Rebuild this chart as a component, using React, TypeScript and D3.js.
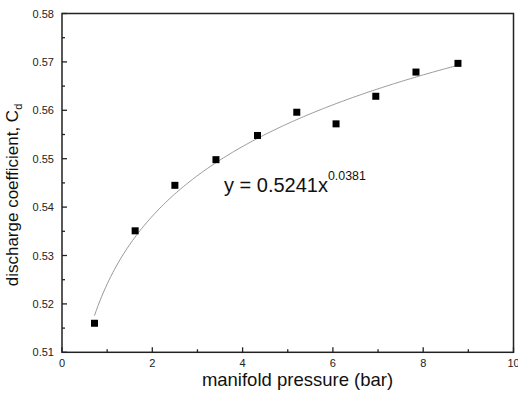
import React from "react";
import * as d3 from "d3";

const pressure = [0.72, 1.62, 2.5, 3.41, 4.33, 5.2, 6.07, 6.95, 7.84, 8.77];
const cd = [0.516, 0.5351, 0.5445, 0.5498, 0.5548, 0.5596, 0.5572, 0.5629, 0.5679, 0.5697];
const fitA = 0.5241;
const fitB = 0.0381;
const xTicks = [0, 2, 4, 6, 8, 10];
const xMinor = [1, 3, 5, 7, 9];
const yTicks = [0.51, 0.52, 0.53, 0.54, 0.55, 0.56, 0.57, 0.58];
const yMinor = [0.515, 0.525, 0.535, 0.545, 0.555, 0.565, 0.575];

export default function App() {
  const W = 518, H = 402;
  const L = 62, R = 513.5, T = 13.5, B = 352.3;
  const x = d3.scaleLinear().domain([0, 10]).range([L, R]);
  const y = d3.scaleLinear().domain([0.51, 0.58]).range([B, T]);
  const xs = d3.range(0, 201).map((i) => pressure[0] + (pressure[pressure.length - 1] - pressure[0]) * i / 200);
  const line = d3.line<number>().x((v) => x(v)).y((v) => y(fitA * Math.pow(v, fitB)));
  const font = "Arial, 'Liberation Sans', sans-serif";
  return (
    <svg width={W} height={H} style={{ position: "absolute", left: 0, top: 0, background: "#fff" }} fontFamily={font}>
      <rect x={0} y={0} width={W} height={H} fill="#fff" />
      <path d={line(xs) || ""} fill="none" stroke="#999" strokeWidth={1} />
      {pressure.map((p, i) => (
        <rect key={i} x={x(p) - 3.5} y={y(cd[i]) - 3.5} width={7} height={7} fill="#000" />
      ))}
      <rect x={L} y={T} width={R - L} height={B - T} fill="none" stroke="#222" strokeWidth={1.5} />
      {xTicks.map((t) => (
        <g key={"x" + t}>
          <line x1={x(t)} x2={x(t)} y1={B} y2={B - 5} stroke="#222" strokeWidth={1.3} />
          <text x={x(t)} y={367} fontSize={11} textAnchor="middle" fill="#222">{t}</text>
        </g>
      ))}
      {xMinor.map((t) => (
        <line key={"xm" + t} x1={x(t)} x2={x(t)} y1={B} y2={B - 3} stroke="#222" strokeWidth={1.3} />
      ))}
      {yTicks.map((t) => (
        <g key={"y" + t}>
          <line x1={L} x2={L + 5} y1={y(t)} y2={y(t)} stroke="#222" strokeWidth={1.3} />
          <text x={54} y={y(t) + 4} fontSize={11} textAnchor="end" fill="#222">{t.toFixed(2)}</text>
        </g>
      ))}
      {yMinor.map((t) => (
        <line key={"ym" + t} x1={L} x2={L + 3} y1={y(t)} y2={y(t)} stroke="#222" strokeWidth={1.3} />
      ))}
      <text x={297.5} y={386} fontSize={18.5} textAnchor="middle" fill="#111">manifold pressure (bar)</text>
      <text transform="translate(18,195) rotate(-90)" fontSize={17} textAnchor="middle" fill="#111">
        discharge coefficient, C<tspan fontSize={11} dy={4}>d</tspan>
      </text>
      <text x={224} y={192} fontSize={20} fill="#111">
        y = 0.5241x<tspan fontSize={12.4} dy={-12}>0.0381</tspan>
      </text>
    </svg>
  );
}
